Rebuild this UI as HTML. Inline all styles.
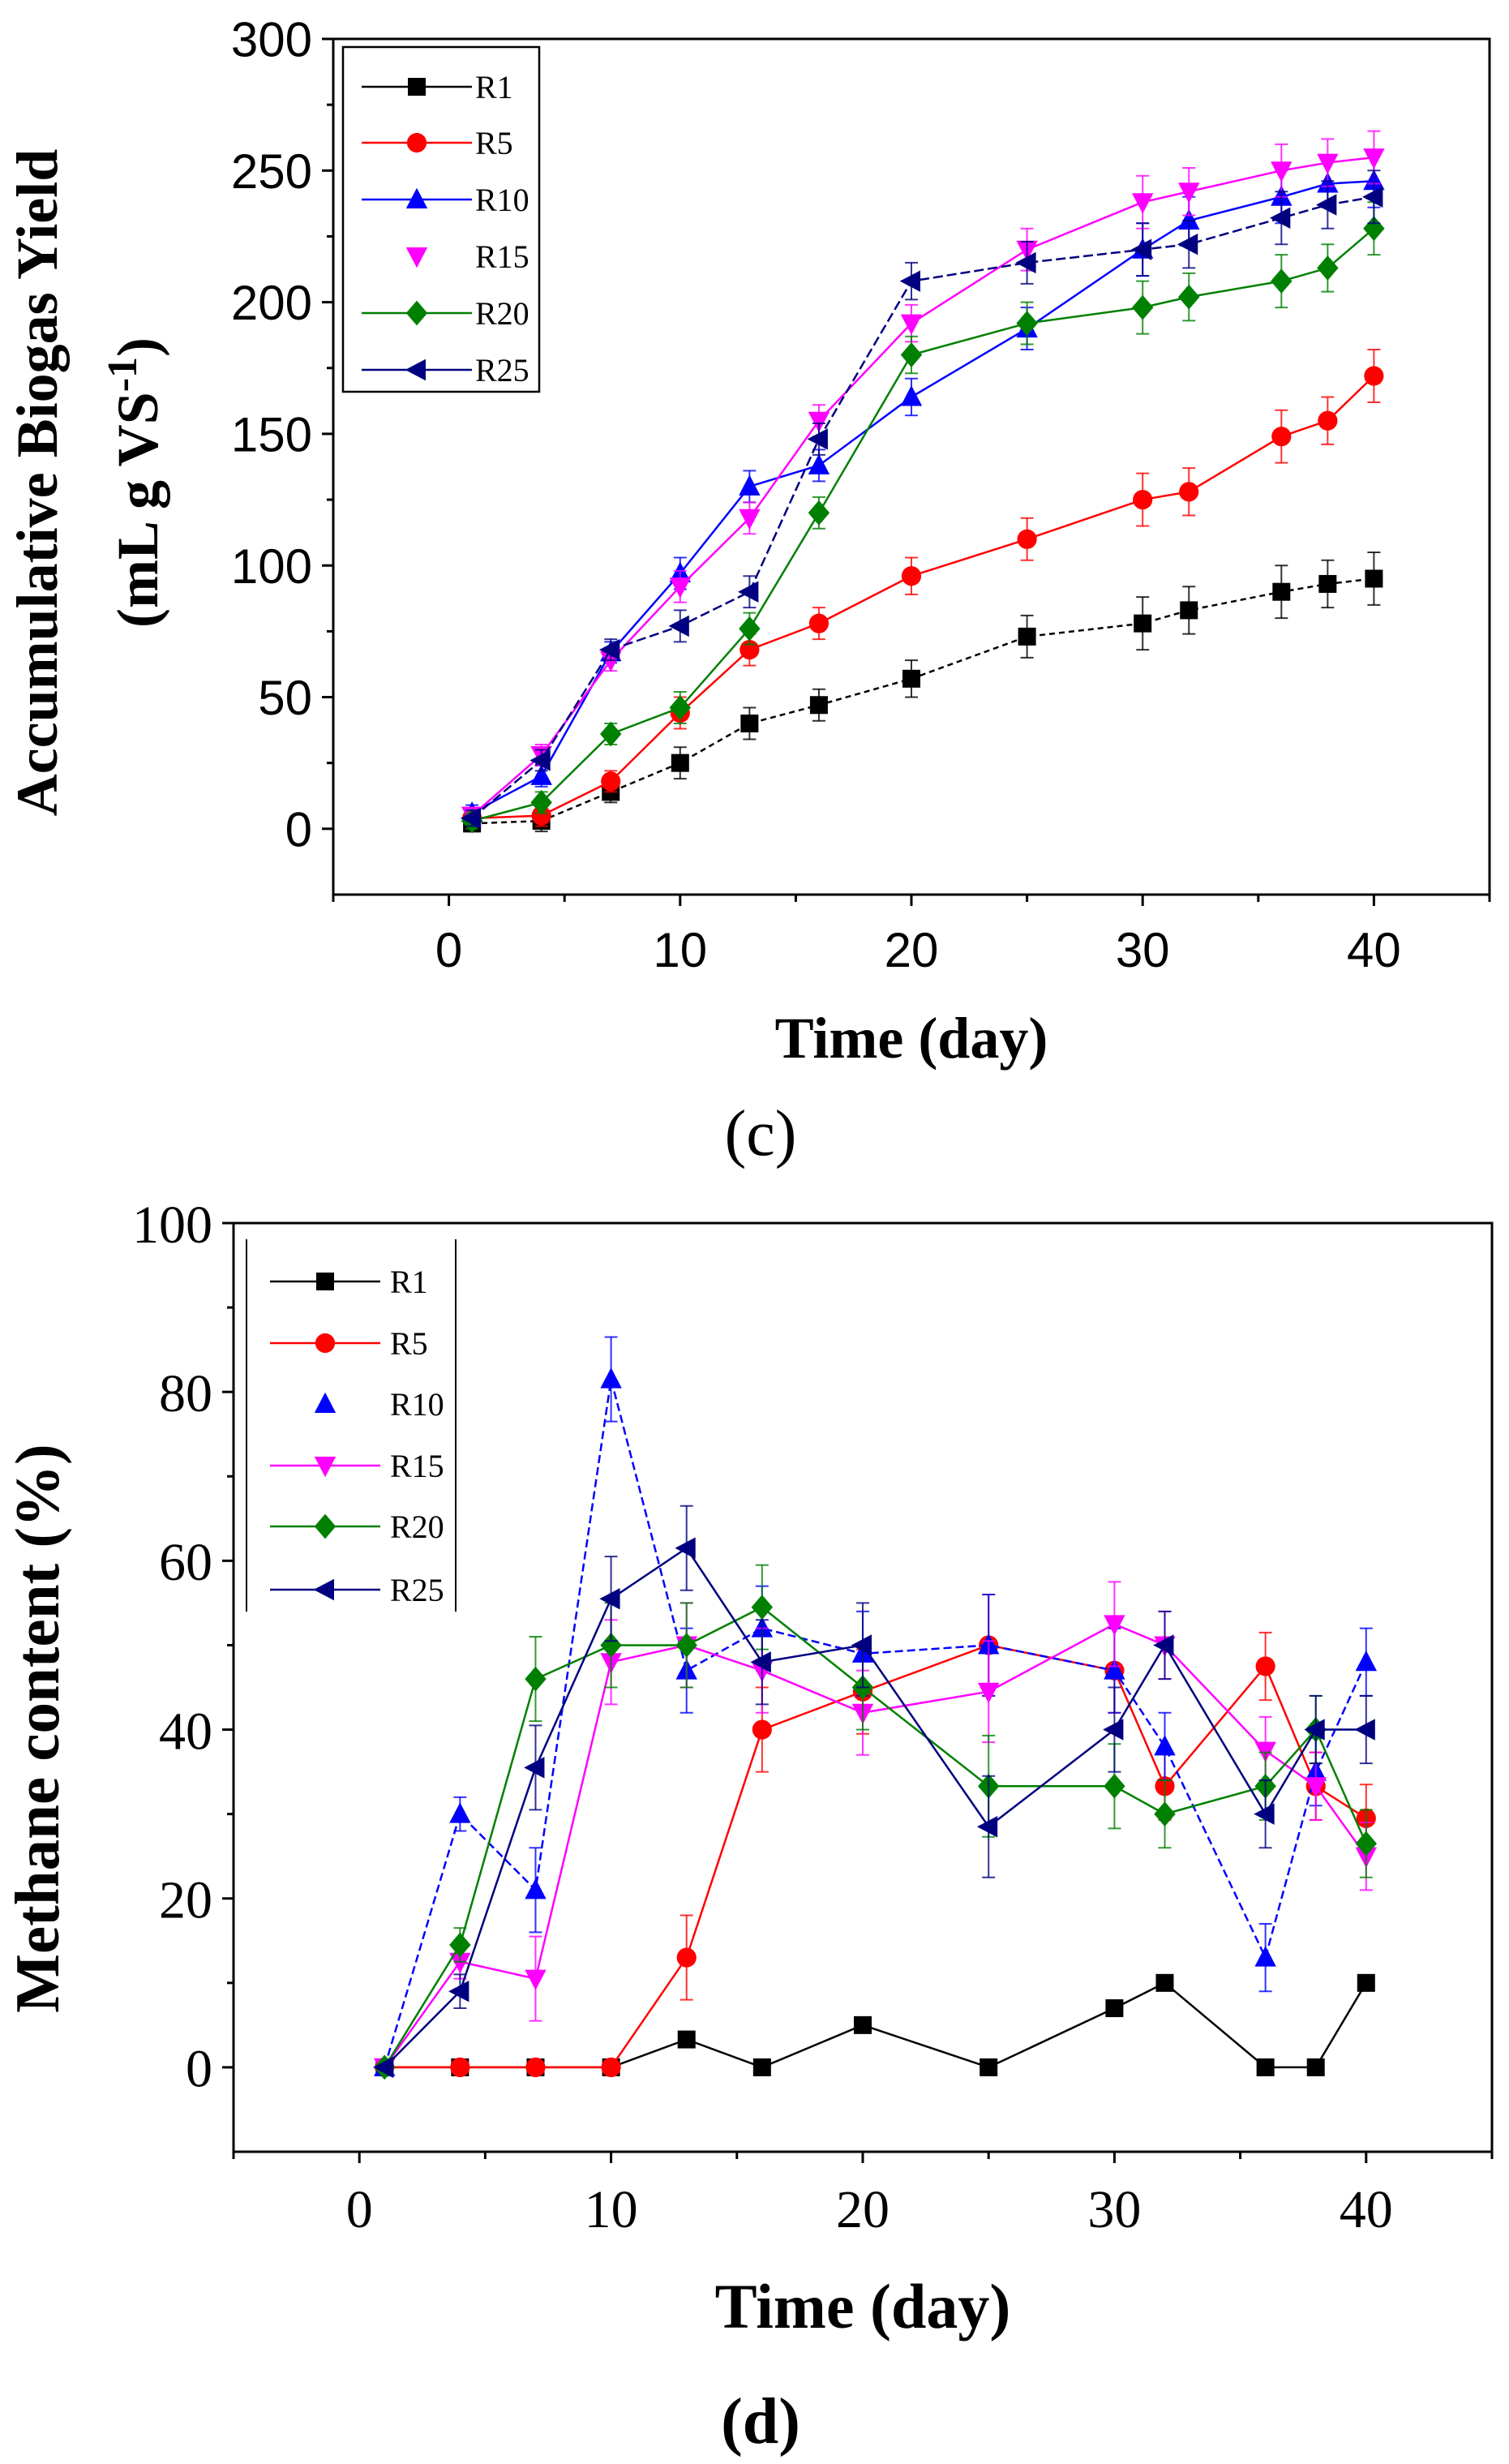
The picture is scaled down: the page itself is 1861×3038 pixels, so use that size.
<!DOCTYPE html>
<html><head><meta charset="utf-8"><style>
html,body{margin:0;padding:0;background:#fff}
svg{display:block}
</style></head><body>
<svg id="fig" width="1861" height="3038" viewBox="0 0 1861 3038" xmlns="http://www.w3.org/2000/svg"></svg>
<script>
const days = [1,4,7,10,13,16,20,25,30,32,36,38,40];
const seriesNames = ["R1","R5","R10","R15","R20","R25"];
const colors = ["#000000","#ff0000","#0000ff","#ff00ff","#008000","#000080"];
const markers = ["square","circle","up","down","diamond","left"];
// chart c: accumulative biogas yield
const cR1 = [2,3,14,25,40,47,57,73,78,83,90,93,95];
const cR5 = [4,5,18,44,68,78,96,110,125,128,149,155,172];
const cR10 = [6,20,67,97,130,138,164,190,220,231,240,245,246];
const cR15 = [5,28,64,92,118,155,192,220,238,242,250,253,255];
const cR20 = [3,10,36,46,76,120,180,192,198,202,208,213,228];
const cR25 = [4,26,68,77,90,148,208,215,220,222,232,237,240];
const cErr = [3,4,4,6,6,6,7,8,10,9,10,9,10];
const cYTicks = [0,50,100,150,200,250,300];
const xTicks = [0,10,20,30,40];
// chart d: methane content
const dR1 = [0,0,0,0,3.3,0,5,0,7,10,0,0,10];
const dR5 = [0,0,0,0,13,40,44.5,50,47,33.3,47.5,33.3,29.5];
const dR10 = [0,30,21,81.5,47,52,49,50,47,38,13,35,48];
const dR15 = [0,12.5,10.5,48,50,47,42,44.5,52.5,50,37.5,33.3,25];
const dR20 = [0,14.5,46,50,50,54.5,45,33.3,33.3,30,33.3,40,26.5];
const dR25 = [0,9,35.5,55.5,61.5,48,50,28.5,40,50,30,40,40];
const dErr = [0,2,5,5,5,5,5,6,5,4,4,4,4];
const dYTicks = [0,20,40,60,80,100];

const NS="http://www.w3.org/2000/svg";
const svg=document.getElementById('fig');
function mk(tag,attrs,parent){const e=document.createElementNS(NS,tag);for(const k in attrs)e.setAttribute(k,attrs[k]);(parent||svg).appendChild(e);return e;}

function marker(g,type,x,y,c,s){
  let el;
  if(type==="square") el=mk('rect',{x:x-s,y:y-s,width:2*s,height:2*s,fill:c},g);
  else if(type==="circle") el=mk('circle',{cx:x,cy:y,r:s*1.1,fill:c},g);
  else if(type==="up") el=mk('polygon',{points:`${x},${y-s*1.3} ${x-s*1.2},${y+s} ${x+s*1.2},${y+s}`,fill:c},g);
  else if(type==="down") el=mk('polygon',{points:`${x},${y+s*1.3} ${x-s*1.2},${y-s} ${x+s*1.2},${y-s}`,fill:c},g);
  else if(type==="diamond") el=mk('polygon',{points:`${x},${y-s*1.4} ${x+s*1.2},${y} ${x},${y+s*1.4} ${x-s*1.2},${y}`,fill:c},g);
  else el=mk('polygon',{points:`${x-s*1.3},${y} ${x+s},${y-s*1.2} ${x+s},${y+s*1.2}`,fill:c},g);
  
  
}

function chart(o){
  const g=mk('g',{});
  
  
  const X=v=>o.x0+(v-o.xmin)/(o.xmax-o.xmin)*(o.x1-o.x0);
  const Y=v=>o.y1-(v-o.ymin)/(o.ymax-o.ymin)*(o.y1-o.y0);
  const box=mk('rect',{x:o.x0,y:o.y0,width:o.x1-o.x0,height:o.y1-o.y0,fill:'none',stroke:'#000','stroke-width':3},g);
  
  o.yTicks.forEach((t,i)=>{
    const y=Y(t);
    mk('line',{x1:o.x0-14,x2:o.x0,y1:y,y2:y,stroke:'#000','stroke-width':3},g);
    const tx=mk('text',{x:o.x0-26,y:y+o.tfs*0.36,'text-anchor':'end','font-family':o.tfont,'font-size':o.tfs},g);
    tx.textContent=t;
    
    if(i<o.yTicks.length-1){const ym=Y((t+o.yTicks[i+1])/2);mk('line',{x1:o.x0-8,x2:o.x0,y1:ym,y2:ym,stroke:'#000','stroke-width':3},g);}
  });
  { const ym=Y(o.yTicks[0]-(o.yTicks[1]-o.yTicks[0])/2); if(ym<o.y1) mk('line',{x1:o.x0-8,x2:o.x0,y1:ym,y2:ym,stroke:'#000','stroke-width':3},g);}
  for(let v=-5;v<=45;v+=5){
    const x=X(v);const major=v%10===0;
    mk('line',{x1:x,x2:x,y1:o.y1,y2:o.y1+(major?14:9),stroke:'#000','stroke-width':3},g);
  }
  xTicks.forEach(t=>{
    const tx=mk('text',{x:X(t),y:o.xlabY,'text-anchor':'middle','font-family':o.tfont,'font-size':o.tfs},g);
    tx.textContent=t;
    
  });
  o.series.forEach((vals,si)=>{
    const sg=mk('g',{},g);
    
    
    const pts=days.map((d,i)=>X(d)+','+Y(vals[i])).join(' ');
    const pl=mk('polyline',{points:pts,fill:'none',stroke:colors[si],'stroke-width':2.5,'stroke-dasharray':o.dash[si]||'none'},sg);
    
    days.forEach((d,i)=>{
      let e=o.noErr.indexOf(si)>=0?0:o.err[i];
      if(o.zeroNoErr && vals[i]===0) e=0;
      if(e>0){
        const x=X(d);
        mk('line',{x1:x,x2:x,y1:Y(vals[i]-e),y2:Y(vals[i]+e),stroke:colors[si],'stroke-width':2,opacity:0.8},sg);
        mk('line',{x1:x-8,x2:x+8,y1:Y(vals[i]+e),y2:Y(vals[i]+e),stroke:colors[si],'stroke-width':2,opacity:0.8},sg);
        mk('line',{x1:x-8,x2:x+8,y1:Y(vals[i]-e),y2:Y(vals[i]-e),stroke:colors[si],'stroke-width':2,opacity:0.8},sg);
      }
      marker(sg,markers[si],X(d),Y(vals[i]),colors[si],11);
    });
  });
  const lg=mk('g',{},g);
  
  if(o.legBox) mk('rect',{x:o.legBox[0],y:o.legBox[1],width:o.legBox[2],height:o.legBox[3],fill:'#fff',stroke:'#000','stroke-width':2.5},lg);
  if(o.legLines) o.legLines.forEach(x=>mk('line',{x1:x,x2:x,y1:o.legLineY[0],y2:o.legLineY[1],stroke:'#000','stroke-width':2},lg));
  seriesNames.forEach((n,si)=>{
    const eg=mk('g',{},lg);
    
    
    const y=o.legY[si];
    if(o.legNoLine.indexOf(si)<0) mk('line',{x1:o.legL[0],x2:o.legL[2],y1:y,y2:y,stroke:colors[si],'stroke-width':2.5},eg);
    marker(eg,markers[si],o.legL[1],y,colors[si],11);
    const t=mk('text',{x:o.legT,y:y+14,'font-family':'"Liberation Serif",serif','font-size':40},eg);
    t.textContent=n;
  });
  return {X,Y};
}

chart({name:'chart-c-biogas-yield',x0:411,x1:1837,y0:48,y1:1103,xmin:-5,xmax:45,ymin:-25,ymax:300,
  yTicks:cYTicks,tfont:'"Liberation Sans Narrow","Liberation Sans",sans-serif',tfs:60,xlabY:1192,
  series:[cR1,cR5,cR10,cR15,cR20,cR25],err:cErr,noErr:[],zeroNoErr:false,dash:['7,5',null,null,null,null,'12,5'],
  legBox:[423,58,242,425],legY:[107,176,246,316,386,456],legL:[446,514,582],legT:586,legNoLine:[3]});

chart({name:'chart-d-methane-content',x0:288,x1:1840,y0:1508,y1:2653,xmin:-5,xmax:45,ymin:-10,ymax:100,
  yTicks:dYTicks,tfont:'"Liberation Serif",serif',tfs:66,xlabY:2746,
  series:[dR1,dR5,dR10,dR15,dR20,dR25],err:dErr,noErr:[0],zeroNoErr:true,dash:[null,null,'10,5',null,null,null],
  legLines:[304,562],legLineY:[1528,1987],legY:[1580,1656,1731,1807,1882,1960],legL:[333,401,469],legT:481,legNoLine:[2]});

function txt(s,attrs,name){const t=mk('text',attrs);t.textContent=s;return t;}
const bf='"Liberation Serif",serif';
txt('Time (day)',{x:1124,y:1304,'text-anchor':'middle','font-family':bf,'font-size':72,'font-weight':'bold'},'x-axis-title-c');
txt('(c)',{x:938,y:1424,'text-anchor':'middle','font-family':bf,'font-size':80},'panel-label-c');
txt('Accumulative Biogas Yield',{x:0,y:0,'text-anchor':'middle','font-family':bf,'font-size':72,'font-weight':'bold',transform:'translate(70,595) rotate(-90)'},'y-axis-title-c');
const yt2=mk('text',{x:0,y:0,'text-anchor':'middle','font-family':bf,'font-size':72,'font-weight':'bold',transform:'translate(194,595) rotate(-90)'});

yt2.innerHTML='(mL g VS<tspan dy="-26" font-size="52">-1</tspan><tspan dy="26">)</tspan>';
txt('Methane content (%)',{x:0,y:0,'text-anchor':'middle','font-family':bf,'font-size':77,'font-weight':'bold',transform:'translate(72,2131) rotate(-90)'},'y-axis-title-d');
txt('Time (day)',{x:1064,y:2870,'text-anchor':'middle','font-family':bf,'font-size':78,'font-weight':'bold'},'x-axis-title-d');
txt('(d)',{x:938,y:3012,'text-anchor':'middle','font-family':bf,'font-size':80,'font-weight':'bold'},'panel-label-d');
</script>
</body></html>
